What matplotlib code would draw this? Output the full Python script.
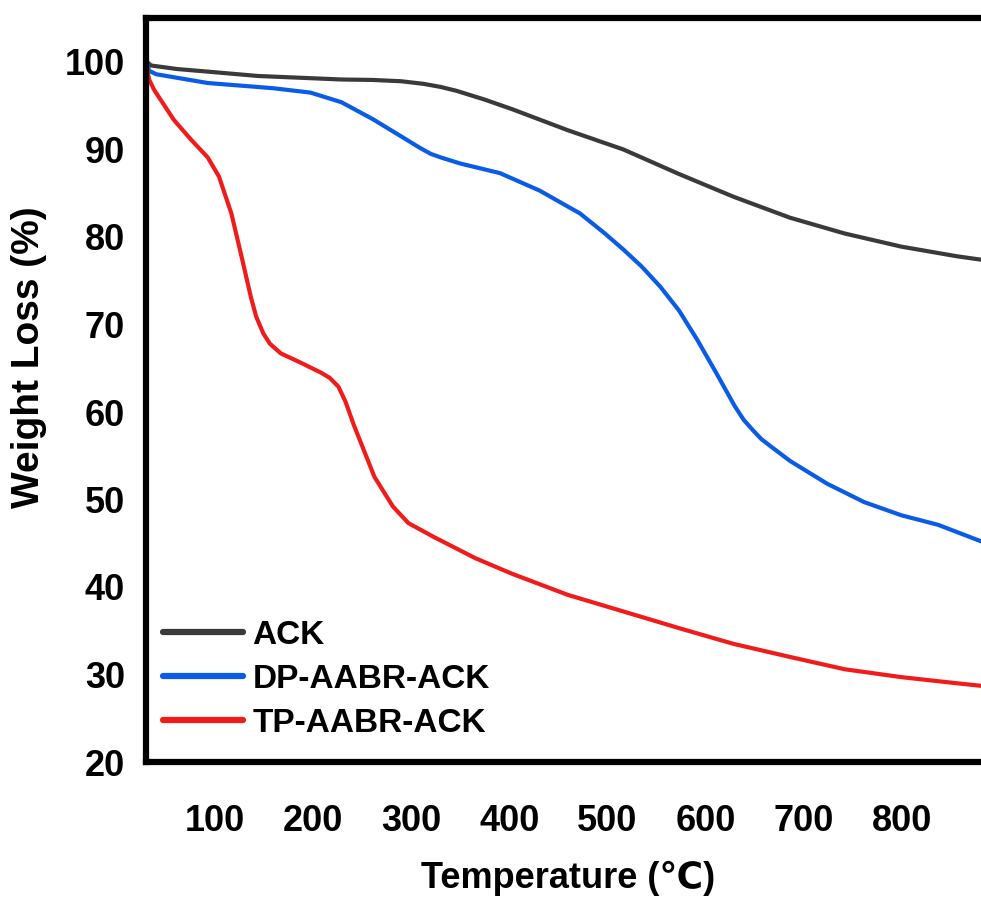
import matplotlib
matplotlib.use("Agg")
import matplotlib.pyplot as plt

plt.rcParams['font.family'] = ['Liberation Sans', 'DejaVu Sans']
plt.rcParams['font.weight'] = 'bold'

# ---- data ----
temp_ack = [30.7, 34.9, 61.1, 92.6, 144.0, 187.0, 229.0, 260.4, 289.8, 312.9, 330.0, 346.4, 375.0,
            403.1, 459.7, 516.4, 573.0, 628.6, 686.3, 741.9, 799.6, 856.2, 881.4]
w_ack = [100.0, 99.6, 99.2, 98.9, 98.4, 98.2, 98.0, 97.95, 97.8, 97.5, 97.15, 96.7, 95.7,
         94.6, 92.2, 90.0, 87.2, 84.6, 82.2, 80.4, 78.9, 77.8, 77.4]

temp_dp = [30.7, 32.8, 40.2, 92.6, 159.7, 197.5, 229.0, 260.4, 289.8, 308.7, 320.0, 330.0, 350.0,
           390.5, 431.0, 472.0, 497.5, 516.0, 535.2, 554.1, 573.0, 591.9, 610.8, 629.7, 639.0,
           648.5, 657.0, 667.4, 686.3, 724.1, 761.8, 799.6, 837.3, 881.4]
w_dp = [100.0, 99.0, 98.6, 97.6, 97.0, 96.5, 95.4, 93.5, 91.5, 90.2, 89.5, 89.1, 88.4,
        87.3, 85.3, 82.7, 80.4, 78.6, 76.6, 74.3, 71.6, 68.2, 64.5, 60.7, 59.1,
        57.9, 56.9, 56.0, 54.4, 51.8, 49.7, 48.2, 47.1, 45.2]

temp_tp = [30.7, 32.8, 38.1, 58.0, 75.8, 92.6, 104.1, 116.7, 126.2, 136.7, 142.0, 149.2, 156.0,
           167.1, 188.1, 208.0, 217.0, 225.8, 233.0, 241.6, 262.5, 281.4, 297.2, 323.4, 365.3,
           403.1, 459.7, 516.4, 573.0, 628.6, 686.3, 741.9, 799.6, 856.2, 881.4]
w_tp = [99.5, 98.0, 96.8, 93.4, 91.1, 89.1, 86.9, 82.7, 78.2, 73.1, 70.9, 69.0, 67.8,
        66.7, 65.6, 64.5, 63.9, 62.9, 61.2, 58.5, 52.6, 49.2, 47.3, 45.7, 43.3,
        41.5, 39.1, 37.2, 35.3, 33.5, 32.0, 30.6, 29.7, 29.0, 28.7]

series_labels = ['ACK', 'DP-AABR-ACK', 'TP-AABR-ACK']
series_colors = ['#3a3a3a', '#0a5ce6', '#f01c1c']

x_ticks = [100, 200, 300, 400, 500, 600, 700, 800]
y_ticks = [20, 30, 40, 50, 60, 70, 80, 90, 100]

W, H = 981, 897
fig = plt.figure(figsize=(W / 100, H / 100), dpi=100)

# axes geometry in pixels (right spine lies beyond the figure edge, as in the reference)
xmin, xmax = 29.7, 900
ymin, ymax = 20, 105
px_per_T = 0.981
left_px = 146
width_px = (xmax - xmin) * px_per_T
top_px, bottom_px = 18.25, 762
ax = fig.add_axes([left_px / W, 1 - bottom_px / H, width_px / W, (bottom_px - top_px) / H])

for t, w, lab, col in zip([temp_ack, temp_dp, temp_tp], [w_ack, w_dp, w_tp], series_labels, series_colors):
    ax.plot(t, w, color=col, lw=3.0, label=lab, solid_capstyle='round', solid_joinstyle='round')

ax.set_xlim(xmin, xmax)
ax.set_ylim(ymin, ymax)
ax.set_xticks(x_ticks)
ax.set_yticks(y_ticks)
ax.tick_params(axis='both', length=0, labelsize=26)
ax.tick_params(axis='x', pad=30)
ax.tick_params(axis='y', pad=15)
for lab in ax.get_xticklabels() + ax.get_yticklabels():
    lab.set_fontweight('bold')

for sp in ax.spines.values():
    sp.set_linewidth(4.5)
    sp.set_color('black')

fig.text(568 / W, 1 - 878 / H, 'Temperature (℃)', ha='center', va='center',
         fontsize=26, fontweight='bold')
fig.text(29 / W, 1 - 357 / H, 'Weight Loss (%)', ha='center', va='center',
         rotation=90, fontsize=28, fontweight='bold')

leg = ax.legend(loc='lower left', bbox_to_anchor=(163 / W, 1 - 739 / H),
                bbox_transform=fig.transFigure, frameon=False,
                handlelength=2.4, handletextpad=0.28, labelspacing=0.39,
                borderpad=0, borderaxespad=0, prop={'weight': 'bold', 'size': 24})
for line in leg.get_lines():
    line.set_linewidth(4.5)

fig.savefig('out.png', dpi=100)
